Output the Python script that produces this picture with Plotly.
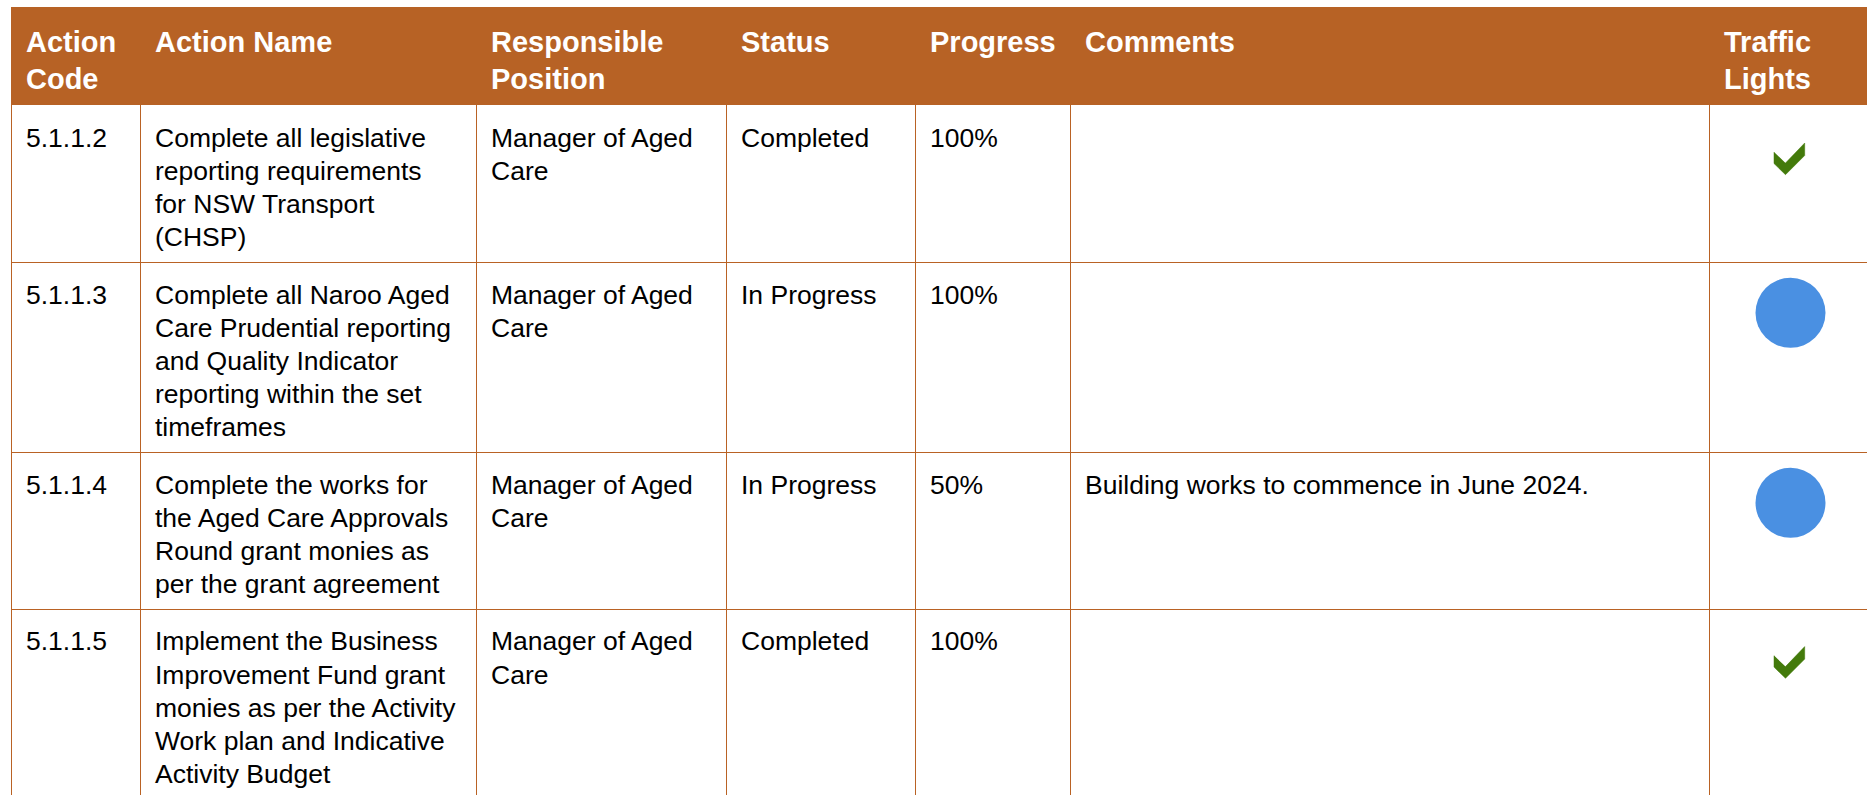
import plotly.graph_objects as go

# ---------------- data ----------------
header_labels = [["Action", "Code"], ["Action Name"], ["Responsible", "Position"], ["Status"],
                 ["Progress"], ["Comments"], ["Traffic", "Lights"]]
action_codes = ["5.1.1.2", "5.1.1.3", "5.1.1.4", "5.1.1.5"]
action_names = [
    ["Complete all legislative", "reporting requirements", "for NSW Transport", "(CHSP)"],
    ["Complete all Naroo Aged", "Care Prudential reporting", "and Quality Indicator",
     "reporting within the set", "timeframes"],
    ["Complete the works for", "the Aged Care Approvals", "Round grant monies as",
     "per the grant agreement"],
    ["Implement the Business", "Improvement Fund grant", "monies as per the Activity",
     "Work plan and Indicative", "Activity Budget"],
]
responsible = [["Manager of Aged", "Care"]] * 4
statuses = ["Completed", "In Progress", "In Progress", "Completed"]
progress = ["100%", "100%", "50%", "100%"]
comments = ["", "", "Building works to commence in June 2024.", ""]
traffic = ["tick", "circle", "circle", "tick"]

# ---------------- style / layout constants ----------------
W, H = 1867, 795
TABLE_LEFT, TABLE_TOP = 11.5, 7
HEADER_H = 98
COL_W = [129, 336, 250, 189, 155, 639, 162]
TEXT_PAD = 14.5
LINE = 33.2             # body line spacing
ROW_EXTRA = 24          # row height = lines * LINE + ROW_EXTRA
FIRST_BASE = 41.7       # first baseline below row top
HDR_BASE, HDR_LINE = 44.5, 37
BODY_SIZE, HDR_SIZE = 26.5, 29
ORANGE = "#B76225"
GRID = "#B96224"
GREEN = "#437A0B"
BLUE = "#4A90E2"
FONT = "Liberation Sans, Arial, sans-serif"
CIRCLE_D, CIRCLE_DY = 70, 51
# tick polygon, relative to (column centre, row top)
TICK_DX = [-16.5, -16.5, -5, 14.2, 14.2, -5]
TICK_DY = [47, 58.5, 69.7, 50.5, 38, 58]

# ---------------- geometry derived from the data ----------------
col_edges = [TABLE_LEFT]
for w in COL_W:
    col_edges.append(col_edges[-1] + w)
col_text_x = [e + TEXT_PAD for e in col_edges[:-1]]

body_cols = [
    [[c] for c in action_codes],
    action_names,
    responsible,
    [[s] for s in statuses],
    [[p] for p in progress],
    [[c] if c else [] for c in comments],
]
n_rows = len(action_codes)
row_lines = [max(len(col[r]) for col in body_cols) for r in range(n_rows)]
row_tops = [TABLE_TOP + HEADER_H]
for n in row_lines:
    row_tops.append(row_tops[-1] + n * LINE + ROW_EXTRA)

fig = go.Figure()

# header band
fig.add_shape(type="rect", xref="x", yref="y", x0=col_edges[0] - 0.5, x1=col_edges[-1],
              y0=TABLE_TOP, y1=row_tops[0], fillcolor=ORANGE, line=dict(width=0), layer="below")
# vertical grid lines
for e in col_edges[:-1]:
    fig.add_shape(type="line", xref="x", yref="y", x0=e, x1=e, y0=row_tops[0], y1=row_tops[-1],
                  line=dict(color=GRID, width=1))
# horizontal grid lines
for t in row_tops[1:]:
    yy = round(t) + 0.5
    fig.add_shape(type="line", xref="x", yref="y", x0=col_edges[0], x1=col_edges[-1], y0=yy, y1=yy,
                  line=dict(color=GRID, width=1))

# header text
hx, hy, ht = [], [], []
for ci, lab in enumerate(header_labels):
    for li, s in enumerate(lab):
        hx.append(col_text_x[ci])
        hy.append(TABLE_TOP + HDR_BASE + li * HDR_LINE - 0.25 * HDR_SIZE)
        ht.append("<b>" + s + "</b>")
fig.add_trace(go.Scatter(x=hx, y=hy, text=ht, mode="text", textposition="middle right",
                         textfont=dict(family=FONT, size=HDR_SIZE, color="white"),
                         hoverinfo="skip", cliponaxis=False))

# body text
bx, by, bt = [], [], []
for ci, col in enumerate(body_cols):
    for r in range(n_rows):
        for li, s in enumerate(col[r]):
            bx.append(col_text_x[ci])
            by.append(row_tops[r] + FIRST_BASE + li * LINE - 0.25 * BODY_SIZE)
            bt.append(s)
fig.add_trace(go.Scatter(x=bx, y=by, text=bt, mode="text", textposition="middle right",
                         textfont=dict(family=FONT, size=BODY_SIZE, color="black"),
                         hoverinfo="skip", cliponaxis=False))

# traffic lights
tl_cx = (col_edges[-2] + col_edges[-1]) / 2
cy = [row_tops[r] + CIRCLE_DY for r in range(n_rows) if traffic[r] == "circle"]
fig.add_trace(go.Scatter(x=[tl_cx] * len(cy), y=cy, mode="markers",
                         marker=dict(size=CIRCLE_D, color=BLUE, line=dict(width=0)),
                         hoverinfo="skip"))
kx, ky = [], []
for r in range(n_rows):
    if traffic[r] == "tick":
        kx += [tl_cx + d for d in TICK_DX] + [None]
        ky += [row_tops[r] + d for d in TICK_DY] + [None]
fig.add_trace(go.Scatter(x=kx, y=ky, mode="lines", fill="toself", fillcolor=GREEN,
                         line=dict(color=GREEN, width=0.5), hoverinfo="skip"))

fig.update_layout(
    width=W, height=H, margin=dict(l=0, r=0, t=0, b=0),
    paper_bgcolor="white", plot_bgcolor="white", showlegend=False,
    xaxis=dict(range=[0, W], visible=False, fixedrange=True),
    yaxis=dict(range=[H, 0], visible=False, fixedrange=True),
)
fig.write_html("out.html", config={"displayModeBar": False, "staticPlot": True},
               post_script="document.body.style.margin='0';document.body.style.overflow='hidden';")
